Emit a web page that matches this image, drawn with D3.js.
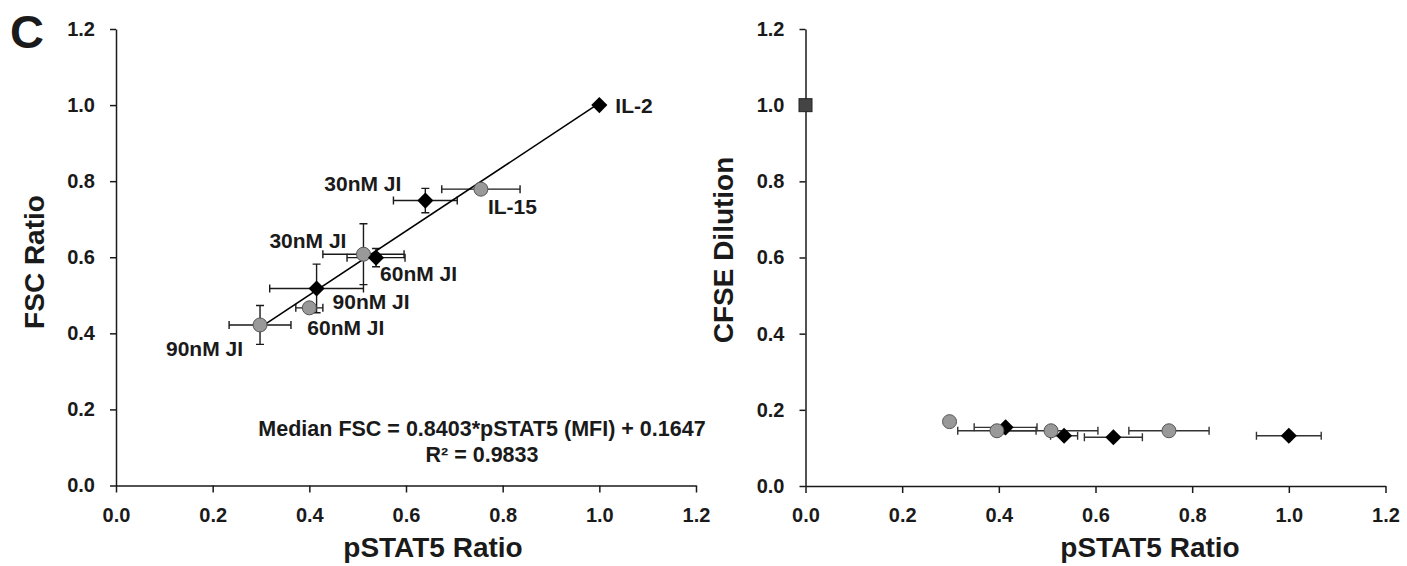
<!DOCTYPE html>
<html>
<head>
<meta charset="utf-8">
<script src="https://cdn.jsdelivr.net/npm/d3@7"></script>
<style>
    body { margin: 0; background: #fff; }
    svg text { font-family: "Liberation Sans", Arial, sans-serif; font-weight: bold; fill: #1a1a1a; }
    .axis path, .axis line { stroke: #1a1a1a; stroke-width: 1.5px; }
    .axis text { font-size: 20px; }
    .axis-title { font-size: 28px; }
    .pt-label { font-size: 21px; }
    .eq { font-size: 21.5px; }
</style>
</head>
<body>
<svg id="chart"></svg>
<script>
// ---- data ----
const ticks = [0, 0.2, 0.4, 0.6, 0.8, 1.0, 1.2];

// IL-2 series (black diamonds)
const il2Names = ['IL-2', '30nM JI', '60nM JI', '90nM JI'];
const il2Pstat5 = [1.0, 0.640, 0.538, 0.415];
const il2Pstat5Err = [0, 0.066, 0.060, 0.097];
const il2Fsc = [1.0, 0.749, 0.599, 0.518];
const il2FscErr = [0, 0.032, 0.024, 0.064];

// IL-15 series (grey circles)
const il15Names = ['IL-15', '30nM JI', '60nM JI', '90nM JI'];
const il15Pstat5 = [0.755, 0.512, 0.400, 0.298];
const il15Pstat5Err = [0.081, 0.084, 0.028, 0.064];
const il15Fsc = [0.779, 0.608, 0.467, 0.422];
const il15FscErr = [0.008, 0.080, 0.008, 0.051];

// CFSE panel
const il2CfseX = [1.0, 0.637, 0.535, 0.414];
const il2CfseXErr = [0.067, 0.060, 0.028, 0.065];
const il2Cfse = [0.132, 0.128, 0.132, 0.154];
const il15CfseX = [0.752, 0.508, 0.396, 0.298];
const il15CfseXErr = [0.083, 0.097, 0.081, 0];
const il15Cfse = [0.145, 0.145, 0.145, 0.169];
const controlPoint = [0, 1.0];

const fitSlope = 0.8403, fitIntercept = 0.1647;
const eqLines = ['Median FSC = 0.8403*pSTAT5 (MFI) + 0.1647', 'R\u00b2 = 0.9833'];

// label placement (px offsets from the point)
const il2LabelPos = [[16, 0, 'start'], [-24, -17, 'end'], [4, 16, 'start'], [16, 13, 'start']];
const il15LabelPos = [[7, 17, 'start'], [-17, -14, 'end'], [-2, 20, 'start'], [-17, 23, 'end']];

const W = 1407, H = 566;
const svg = d3.select('#chart').attr('width', W).attr('height', H);

const diamond = d3.symbol(d3.symbolSquare, 130);

function panel(cfg) {
    const x = d3.scaleLinear().domain([0, 1.2]).range([cfg.left, cfg.right]);
    const y = d3.scaleLinear().domain([0, 1.2]).range([cfg.bottom, cfg.top]);

    svg.append('g').attr('class', 'axis')
        .attr('transform', `translate(0,${cfg.bottom})`)
        .call(d3.axisBottom(x).tickValues(ticks).tickFormat(d3.format('.1f')).tickSize(7).tickSizeOuter(0).tickPadding(15));
    svg.append('g').attr('class', 'axis')
        .attr('transform', `translate(${cfg.left},0)`)
        .call(d3.axisLeft(y).tickValues(ticks).tickFormat(d3.format('.1f')).tickSize(6).tickSizeOuter(0).tickPadding(15));

    svg.append('text').attr('class', 'axis-title')
        .attr('x', cfg.xTitleX).attr('y', 557)
        .attr('text-anchor', 'middle')
        .text('pSTAT5 Ratio');
    svg.append('text').attr('class', 'axis-title')
        .attr('transform', `translate(${cfg.yTitleX},${cfg.yTitleY}) rotate(-90)`)
        .attr('text-anchor', 'middle').attr('dy', '0.36em')
        .text(cfg.yTitle);

    return { x, y, g: svg.append('g') };
}

function errorBars(g, x, y, xs, ys, xErr, yErr, color) {
    const cap = 4;
    xs.forEach((xv, i) => {
        const cx = x(xv), cy = y(ys[i]);
        if (xErr[i] > 0) {
            const x0 = x(xv - xErr[i]), x1 = x(xv + xErr[i]);
            g.append('path')
                .attr('d', `M${x0},${cy}H${x1}M${x0},${cy - cap}V${cy + cap}M${x1},${cy - cap}V${cy + cap}`)
                .attr('stroke', color).attr('stroke-width', 1.4).attr('fill', 'none');
        }
        if (yErr && yErr[i] > 0) {
            const y0 = y(ys[i] - yErr[i]), y1 = y(ys[i] + yErr[i]);
            g.append('path')
                .attr('d', `M${cx},${y0}V${y1}M${cx - cap},${y0}H${cx + cap}M${cx - cap},${y1}H${cx + cap}`)
                .attr('stroke', color).attr('stroke-width', 1.4).attr('fill', 'none');
        }
    });
}

function markers(g, x, y, xs, ys, kind) {
    xs.forEach((xv, i) => {
        if (kind === 'diamond') {
            g.append('path').attr('d', diamond)
                .attr('transform', `translate(${x(xv)},${y(ys[i])}) rotate(45)`)
                .attr('fill', '#000');
        } else {
            g.append('circle')
                .attr('cx', x(xv)).attr('cy', y(ys[i])).attr('r', 7)
                .attr('fill', '#999').attr('stroke', '#555').attr('stroke-width', 1);
        }
    });
}

// ---- left panel: FSC vs pSTAT5 ----
const L = panel({ left: 116, right: 696, top: 29, bottom: 485.5, xTitleX: 433, yTitleX: 34, yTitleY: 262, yTitle: 'FSC Ratio' });

errorBars(L.g, L.x, L.y, il2Pstat5, il2Fsc, il2Pstat5Err, il2FscErr, '#1a1a1a');
errorBars(L.g, L.x, L.y, il15Pstat5, il15Fsc, il15Pstat5Err, il15FscErr, '#1a1a1a');

const allX = il2Pstat5.concat(il15Pstat5);
const fitX = d3.extent(allX);
L.g.append('line')
    .attr('x1', L.x(fitX[0])).attr('y1', L.y(fitSlope * fitX[0] + fitIntercept))
    .attr('x2', L.x(fitX[1])).attr('y2', L.y(fitSlope * fitX[1] + fitIntercept))
    .attr('stroke', '#000').attr('stroke-width', 1.6);

markers(L.g, L.x, L.y, il15Pstat5, il15Fsc, 'circle');
markers(L.g, L.x, L.y, il2Pstat5, il2Fsc, 'diamond');

function labels(names, xs, ys, pos) {
    names.forEach((n, i) => {
        L.g.append('text').attr('class', 'pt-label')
            .attr('x', L.x(xs[i]) + pos[i][0])
            .attr('y', L.y(ys[i]) + pos[i][1])
            .attr('dy', '0.36em')
            .attr('text-anchor', pos[i][2])
            .text(n);
    });
}
labels(il2Names, il2Pstat5, il2Fsc, il2LabelPos);
labels(il15Names, il15Pstat5, il15Fsc, il15LabelPos);

L.g.selectAll('.eq').data(eqLines).join('text')
    .attr('class', 'eq')
    .attr('x', 482).attr('y', (d, i) => 428 + i * 26)
    .attr('dy', '0.36em')
    .attr('text-anchor', 'middle')
    .text(d => d);

// ---- right panel: CFSE dilution vs pSTAT5 ----
const R = panel({ left: 805.5, right: 1385.5, top: 29, bottom: 486, xTitleX: 1150, yTitleX: 723, yTitleY: 250, yTitle: 'CFSE Dilution' });

errorBars(R.g, R.x, R.y, il2CfseX, il2Cfse, il2CfseXErr, null, '#333');
errorBars(R.g, R.x, R.y, il15CfseX, il15Cfse, il15CfseXErr, null, '#333');
markers(R.g, R.x, R.y, il2CfseX, il2Cfse, 'diamond');
markers(R.g, R.x, R.y, il15CfseX, il15Cfse, 'circle');

R.g.append('rect')
    .attr('x', R.x(controlPoint[0]) - 6.5).attr('y', R.y(controlPoint[1]) - 6.5)
    .attr('width', 13).attr('height', 13)
    .attr('fill', '#444').attr('stroke', '#222').attr('stroke-width', 1);

// panel letter
svg.append('text')
    .attr('x', 27).attr('y', 48)
    .attr('text-anchor', 'middle')
    .style('font-size', '47px')
    .text('C');
</script>
</body>
</html>
